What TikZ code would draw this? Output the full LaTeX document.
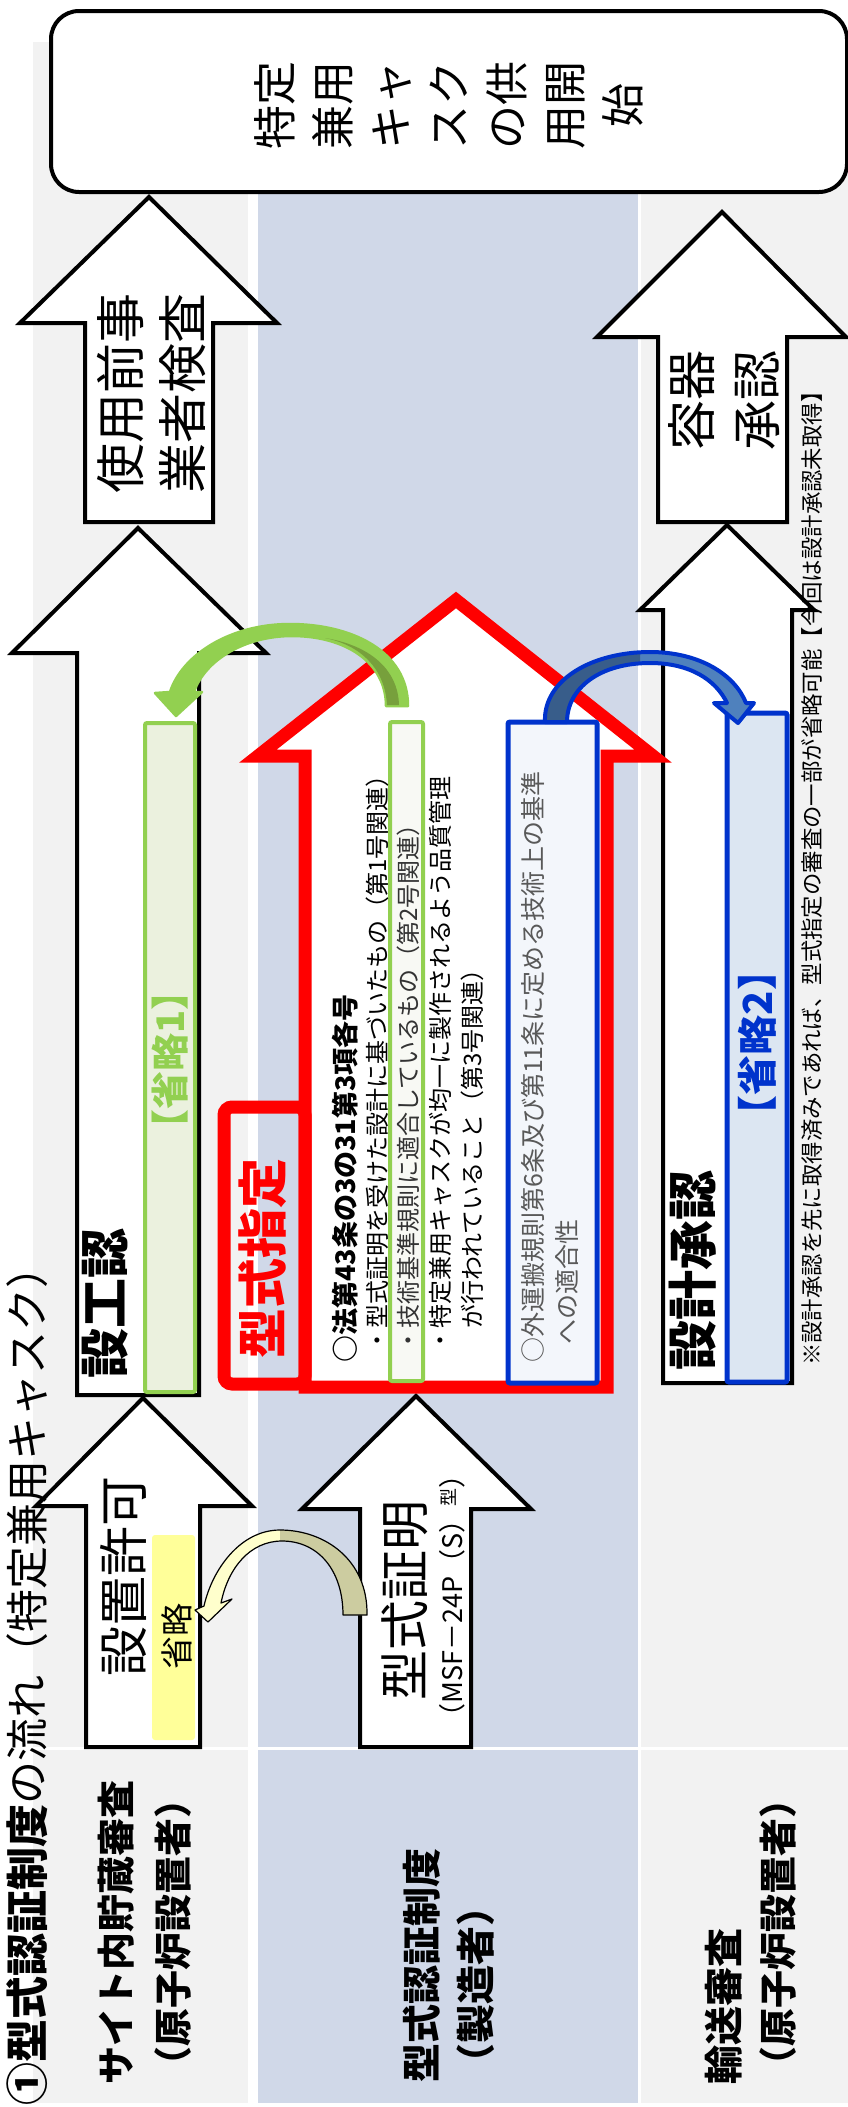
\documentclass[tikz,border=0pt]{standalone}
\usepackage{fontspec}
\setmainfont{Noto Sans CJK JP}
\usetikzlibrary{arrows.meta}
\definecolor{bandgrey}{RGB}{242,242,242}
\definecolor{bandblue}{RGB}{208,216,232}
\definecolor{lgreen}{RGB}{146,208,80}
\definecolor{dgreen}{RGB}{119,160,60}
\definecolor{palegreen}{RGB}{235,241,222}
\definecolor{whitegreen}{RGB}{248,249,244}
\definecolor{dblue}{RGB}{0,51,204}
\definecolor{mblue}{RGB}{79,129,189}
\definecolor{sblue}{RGB}{56,93,138}
\definecolor{paleblue}{RGB}{220,230,242}
\definecolor{whiteblue}{RGB}{243,246,251}
\definecolor{paleyellow}{RGB}{255,255,153}
\definecolor{notegrey}{RGB}{89,89,89}
\definecolor{khaki}{RGB}{204,204,160}
\definecolor{lyellow}{RGB}{255,255,204}
\newcommand{\fsz}[2]{\fontsize{#1pt}{#2pt}\selectfont}
\tikzset{
  blockarrow/.style={draw=black, line width=4pt, fill=white, line join=miter},
  redarrow/.style={draw=red, line width=13pt, fill=white, line join=miter},
  vtext/.style={rotate=90, inner sep=0pt, text=black},
  band/.style={inner sep=0pt, outer sep=0pt}
}
\begin{document}
\begin{tikzpicture}[x=1pt,y=-1pt]
\useasboundingbox (0,0) rectangle (848,2107);
% background bands
\fill[bandgrey] (33,42) rectangle (248,1747);
\fill[bandgrey] (33,1750) rectangle (248,2103);
\fill[bandblue] (258,42) rectangle (638,1747);
\fill[bandblue] (258,1750) rectangle (638,2103);
\fill[bandgrey] (641,42) rectangle (848,1747);
\fill[bandgrey] (641,1750) rectangle (848,2103);

% goal box
\node[draw, line width=4pt, rounded corners=28pt, fill=white, minimum width=796pt, minimum height=181pt, inner sep=0pt] (goal) at (449,101.5) {};
\node[vtext, align=center, font=\fsz{44}{58}] (goaltext) at (449,105) {特定\\兼用\\キャ\\スク\\の供\\用開\\始};

% block arrows
\draw[blockarrow] (149,197) -- (277,323) -- (213,323) -- (213,522) -- (85,522) -- (85,323) -- (20,323) -- cycle;
\draw[blockarrow] (722,212) -- (846,337) -- (787,337) -- (787,522) -- (658,522) -- (658,337) -- (597,337) -- cycle;
\draw[blockarrow] (138,528) -- (266,653) -- (199,653) -- (199,1395) -- (77,1395) -- (77,653) -- (12,653) -- cycle;
\draw[blockarrow] (727,525) -- (814,610) -- (792,610) -- (792,1383) -- (663,1383) -- (663,610) -- (640,610) -- cycle;
\draw[blockarrow] (143,1398) -- (252,1506) -- (200,1506) -- (200,1747) -- (86,1747) -- (86,1506) -- (36,1506) -- cycle;
\draw[blockarrow] (416,1396) -- (531,1509) -- (471,1509) -- (471,1747) -- (360,1747) -- (360,1509) -- (302,1509) -- cycle;
\draw[redarrow] (456,600) -- (653,756) -- (607,756) -- (607,1387) -- (305,1387) -- (305,756) -- (258,756) -- cycle;

% boxes
\node[draw=lgreen, fill=palegreen, line width=4pt, rounded corners=2pt, minimum width=50pt, minimum height=669pt, inner sep=0pt] (om1) at (170,1057.5) {};
\node[draw=lgreen, fill=whitegreen, line width=4pt, rounded corners=2pt, minimum width=33pt, minimum height=659pt, inner sep=0pt] (gbox) at (406.5,1051.5) {};
\node[draw=dblue, fill=whiteblue, line width=5pt, rounded corners=2pt, minimum width=89pt, minimum height=661pt, inner sep=0pt] (bbox) at (552.5,1052.5) {};
\node[draw=dblue, fill=paleblue, line width=5pt, rounded corners=2pt, minimum width=60pt, minimum height=669pt, inner sep=0pt] (om2) at (757,1047.5) {};
\node[fill=paleyellow, rounded corners=3pt, minimum width=43pt, minimum height=205pt, inner sep=0pt] (om0) at (173.5,1637.5) {};
\node[draw=red, line width=13pt, rounded corners=8pt, minimum width=81pt, minimum height=277pt, inner sep=0pt] (kbox) at (264.5,1245.5) {};

% curved arrows
\path[save path=\gpath] (408,706) .. controls (408,650) and (350,624) .. (290,624) .. controls (230,624) and (182,655) .. (170,692) -- (155,693) -- (176,716) -- (202,692) -- (194,692) .. controls (205,660) and (245,636) .. (292,636) .. controls (345,636) and (386,662) .. (386,706) -- cycle;
\draw[draw=lgreen, fill=lgreen, line width=2.5pt, line join=round, use path=\gpath];
\fill[dgreen] (387,705) .. controls (385,668) and (360,645) .. (325,638) .. controls (368,645) and (398,668) .. (399,705) -- cycle;

\path[save path=\bpath] (545,722) .. controls (543,680) and (592,652) .. (650,652) .. controls (700,652) and (735,675) .. (746,703) -- (754,703) -- (738,723) -- (714,703) -- (727,703) .. controls (716,680) and (690,663) .. (650,663) .. controls (600,663) and (567,688) .. (567,722) -- cycle;
\fill[mblue, use path=\bpath];
\begin{scope}
\clip (500,600) rectangle (640,740);
\fill[sblue, use path=\bpath];
\end{scope}
\draw[dblue, line width=4pt, line join=round, use path=\bpath];

\path[save path=\ypath] (367,1615) .. controls (368,1560) and (325,1530) .. (280,1530) .. controls (240,1530) and (212,1570) .. (204,1606) -- (195,1610) -- (208,1622) -- (232,1599) -- (221,1603) .. controls (228,1568) and (250,1541) .. (282,1541) .. controls (318,1541) and (343,1570) .. (343,1615) -- cycle;
\fill[lyellow, use path=\ypath];
\begin{scope}
\clip (280,1500) rectangle (400,1640);
\fill[khaki, use path=\ypath];
\end{scope}
\draw[black, line width=1.2pt, line join=round, use path=\ypath];

% texts
\node[vtext, align=center, font=\fsz{50}{62}] (t1) at (151,393) {使用前事\\業者検査};
\node[vtext, align=center, font=\fsz{50}{65}] (t2) at (724,400) {容器\\承認};
\node[vtext, font=\bfseries\fsz{50}{50}] (t3) at (105,1303) {設工認};
\node[vtext, font=\bfseries\fsz{38}{38}, text=lgreen] (t4) at (170,1060) {【省略1】};
\node[vtext, font=\bfseries\fsz{50}{50}, text=red] (t5) at (263,1258) {型式指定};
\node[vtext, anchor=west, font=\bfseries\fsz{27}{27}] (r1) at (345,1363) {○法第43条の3の31第3項各号};
\node[vtext, anchor=west, font=\fsz{24}{24}] (r2) at (377,1353) {・型式証明を受けた設計に基づいたもの（第1号関連）};
\node[vtext, anchor=west, font=\fsz{24}{24}, text=black!80] (r3) at (408,1353) {・技術基準規則に適合しているもの（第2号関連）};
\node[vtext, anchor=west, font=\fsz{24}{24}] (r4) at (440,1353) {・特定兼用キャスクが均一に製作されるよう品質管理};
\node[vtext, anchor=west, font=\fsz{24}{24}] (r5) at (472,1329) {が行われていること（第3号関連）};
\node[vtext, anchor=west, font=\fsz{25}{25}, text=notegrey] (b1) at (533,1363) {○外運搬規則第6条及び第11条に定める技術上の基準};
\node[vtext, anchor=west, font=\fsz{25}{25}, text=notegrey] (b2) at (567,1345) {への適合性};
\node[vtext, anchor=west, font=\fsz{22.4}{22.4}] (note) at (812,1366) {※設計承認を先に取得済みであれば、型式指定の審査の一部が省略可能【今回は設計承認未取得】};
\node[vtext, font=\bfseries\fsz{50}{50}] (t6) at (693,1270) {設計承認};
\node[vtext, font=\bfseries\fsz{40}{40}, text=dblue] (t7) at (757,1043) {【省略2】};
\node[vtext, font=\fsz{50}{50}] (t8) at (123,1576) {設置許可};
\node[vtext, font=\fsz{33}{33}] (t9) at (177,1636) {省略};
\node[vtext, font=\fsz{50}{50}] (t10) at (405,1600) {型式証明};
\node[vtext, font=\fsz{27}{27}] (t11) at (452,1596) {（MSF－24P（S）\raisebox{7pt}{\fsz{18}{18}型}）};

% row labels
\node[vtext, anchor=west, font=\bfseries\fsz{38}{38}] (l1) at (116,2085) {サイト内貯蔵審査};
\node[vtext, anchor=west, font=\bfseries\fsz{38}{38}] (l2) at (173,2085) {（原子炉設置者）};
\node[vtext, anchor=west, font=\bfseries\fsz{39}{39}] (l3) at (422,2083) {型式認証制度};
\node[vtext, anchor=west, font=\bfseries\fsz{39}{39}] (l4) at (476,2083) {（製造者）};
\node[vtext, anchor=west, font=\bfseries\fsz{39}{39}] (l5) at (724,2085) {輸送審査};
\node[vtext, anchor=west, font=\bfseries\fsz{38}{38}] (l6) at (778,2085) {（原子炉設置者）};

% title
\node[vtext, anchor=west, font=\fsz{43}{43}] (title) at (27,2106) {\textbf{①型式認証制度}の流れ（特定兼用キャスク）};
\end{tikzpicture}
\end{document}
